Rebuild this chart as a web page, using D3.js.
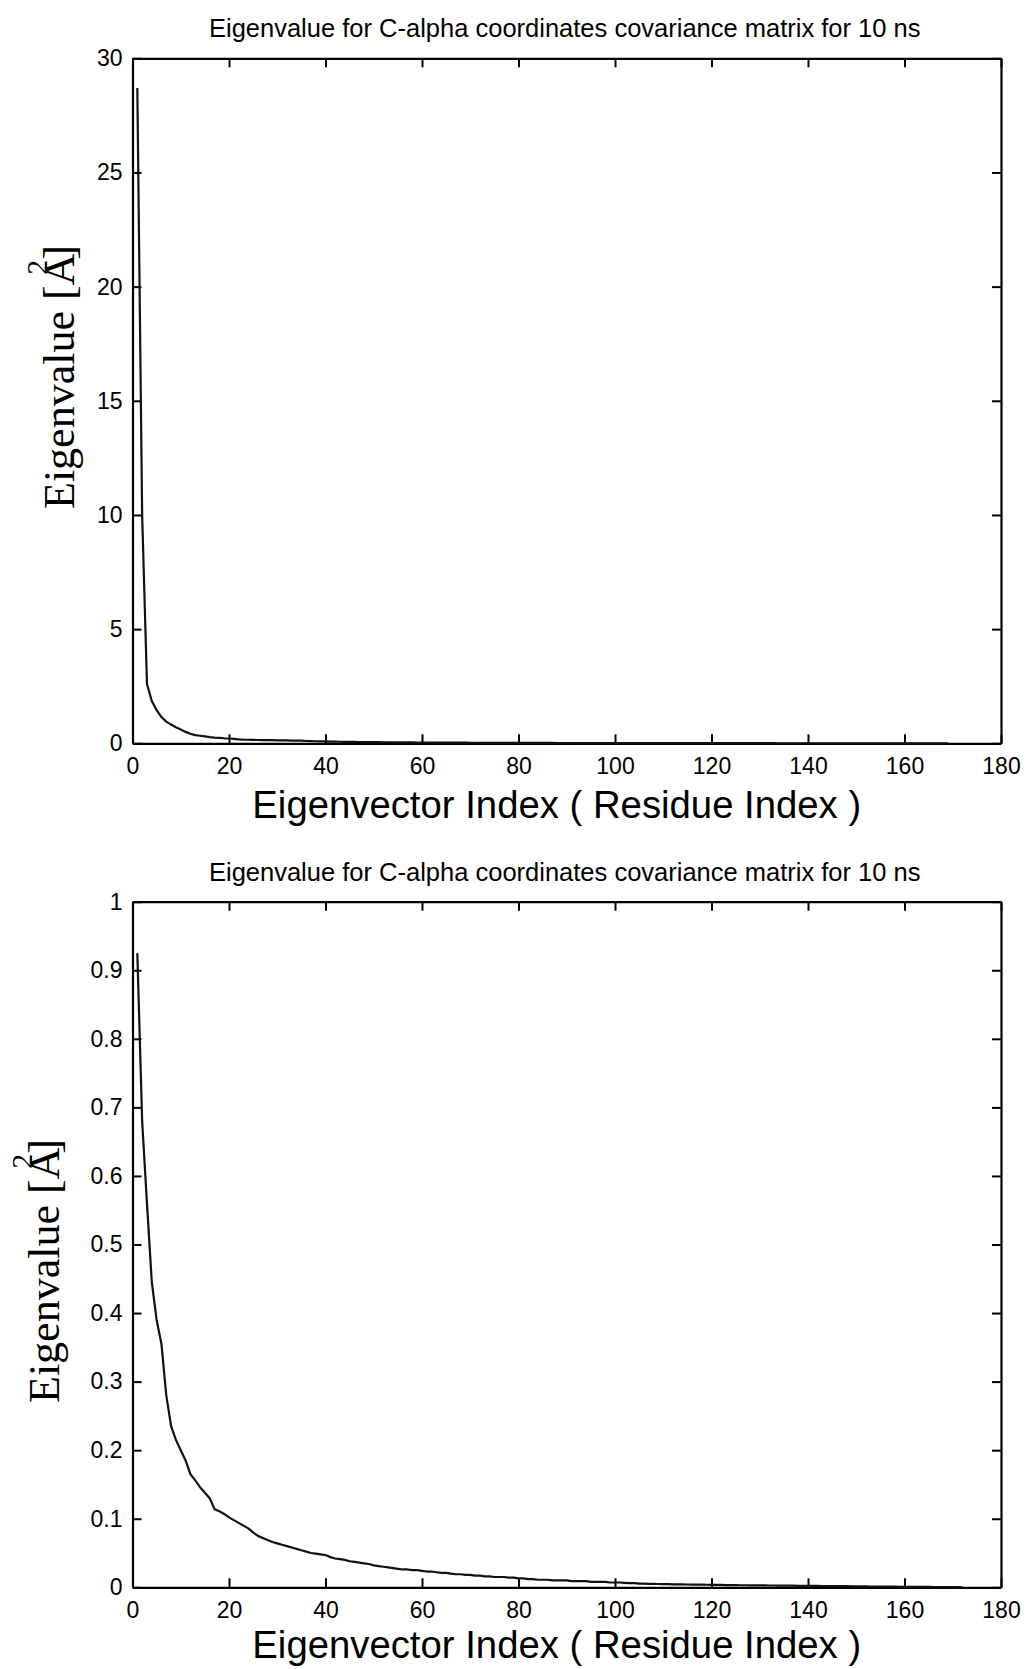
<!DOCTYPE html>
<html>
<head>
<meta charset="utf-8">
<script src="https://cdn.jsdelivr.net/npm/d3@7"></script>
<style>
  body { margin: 0; background: #ffffff; }
  text { fill: #000000; }
</style>
</head>
<body>
<script>
const width = 1026;
const height = 1669;

const titleText = "Eigenvalue for C-alpha coordinates covariance matrix for 10 ns";
const xLabelText = "Eigenvector Index ( Residue Index )";

const xTicks = [0, 20, 40, 60, 80, 100, 120, 140, 160, 180];
const yTicksTop = [0, 5, 10, 15, 20, 25, 30];
const yTicksBottom = [0, 0.1, 0.2, 0.3, 0.4, 0.5, 0.6, 0.7, 0.8, 0.9, 1];

// eigenvalues, index 1..169 (top panel)
const eigenTop = [
  28.7, 10.0, 2.6, 1.85, 1.45, 1.15, 0.95, 0.82, 0.70, 0.60,
  0.50, 0.42, 0.36, 0.33, 0.30, 0.27, 0.25, 0.24, 0.22, 0.21,
  0.19, 0.17, 0.16, 0.155, 0.15, 0.145, 0.14, 0.14, 0.135, 0.13,
  0.13, 0.125, 0.12, 0.12, 0.115, 0.10, 0.095, 0.09, 0.085, 0.08,
  0.076, 0.072, 0.069, 0.066, 0.063, 0.060, 0.058, 0.055, 0.053, 0.051,
  0.049, 0.047, 0.045, 0.043, 0.042, 0.040, 0.039, 0.037, 0.036, 0.035,
  0.034, 0.033, 0.032, 0.031, 0.030, 0.029, 0.028, 0.027, 0.026, 0.025,
  0.025, 0.024, 0.023, 0.022, 0.022, 0.021, 0.020, 0.020, 0.019, 0.018,
  0.018, 0.017, 0.017, 0.016, 0.016, 0.015, 0.015, 0.014, 0.014, 0.013,
  0.013, 0.012, 0.012, 0.012, 0.011, 0.011, 0.010, 0.010, 0.010, 0.009,
  0.009, 0.009, 0.008, 0.008, 0.008, 0.008, 0.007, 0.007, 0.007, 0.007,
  0.006, 0.006, 0.006, 0.006, 0.006, 0.005, 0.005, 0.005, 0.005, 0.005,
  0.0045, 0.0045, 0.0044, 0.0043, 0.0042, 0.0041, 0.004, 0.0039, 0.0038, 0.0037,
  0.0036, 0.0035, 0.0034, 0.0033, 0.0032, 0.0031, 0.003, 0.0029, 0.0028, 0.0027,
  0.0026, 0.0025, 0.0024, 0.0023, 0.0022, 0.0021, 0.002, 0.0019, 0.0018, 0.0017,
  0.0016, 0.0015, 0.0014, 0.0013, 0.0012, 0.0011, 0.001, 0.0009, 0.0008, 0.0007,
  0.0007, 0.0006, 0.0006, 0.0005, 0.0005, 0.0004, 0.0004, 0.0003, 0.0003
];

// eigenvalues, index 1..172 (bottom panel)
const eigenBottom = [
  0.925, 0.68, 0.56, 0.445, 0.39, 0.355, 0.28, 0.235, 0.215, 0.20,
  0.185, 0.165, 0.156, 0.146, 0.138, 0.13, 0.114, 0.111, 0.107, 0.102,
  0.098, 0.094, 0.090, 0.086, 0.080, 0.075, 0.072, 0.069, 0.066, 0.064,
  0.062, 0.060, 0.058, 0.056, 0.054, 0.052, 0.050, 0.049, 0.048, 0.047,
  0.044, 0.042, 0.041, 0.040, 0.038, 0.037, 0.036, 0.035, 0.034, 0.032,
  0.031, 0.030, 0.029, 0.028, 0.027, 0.026, 0.026, 0.025, 0.025, 0.024,
  0.023, 0.023, 0.022, 0.021, 0.021, 0.020, 0.019, 0.019, 0.018, 0.018,
  0.017, 0.017, 0.016, 0.016, 0.015, 0.015, 0.015, 0.014, 0.014, 0.013,
  0.013, 0.012, 0.012, 0.011, 0.011, 0.011, 0.010, 0.010, 0.010, 0.010,
  0.009, 0.009, 0.009, 0.009, 0.008, 0.008, 0.008, 0.008, 0.007, 0.007,
  0.007, 0.0065, 0.006, 0.006, 0.0055, 0.0055, 0.005, 0.005, 0.0048, 0.0046,
  0.0045, 0.0044, 0.0043, 0.0042, 0.0041, 0.004, 0.0039, 0.0038, 0.0037, 0.0036,
  0.0035, 0.0034, 0.0033, 0.0032, 0.0031, 0.003, 0.003, 0.0029, 0.0028, 0.0028,
  0.0027, 0.0026, 0.0026, 0.0025, 0.0024, 0.0024, 0.0023, 0.0022, 0.0022, 0.0021,
  0.002, 0.002, 0.0019, 0.0018, 0.0018, 0.0017, 0.0016, 0.0016, 0.0015, 0.0014,
  0.0014, 0.0013, 0.0012, 0.0012, 0.0011, 0.001, 0.001, 0.0009, 0.0008, 0.0008,
  0.0007, 0.0006, 0.0006, 0.0005, 0.0005, 0.0004, 0.0004, 0.0003, 0.0003, 0.0002,
  0.0002, 0.0001
];

const svg = d3.select("body")
  .append("svg")
  .attr("width", width)
  .attr("height", height)
  .style("display", "block")
  .style("background", "#ffffff");

const left = 132.5;
const right = 1001;
const sansFont = "'Liberation Sans', Arial, Helvetica, sans-serif";
const serifFont = "'Liberation Serif', 'Times New Roman', serif";

function drawPanel(opts) {
  const x = d3.scaleLinear().domain([0, 180]).range([left, right]);
  const y = d3.scaleLinear().domain([0, opts.yMax]).range([opts.bottom, opts.top]);

  const g = svg.append("g").attr("class", "panel");

  // four sided box with inward ticks
  const axes = [
    { axis: d3.axisBottom(x).tickValues(xTicks).tickFormat(d3.format("d")), pos: `translate(0,${opts.bottom})` },
    { axis: d3.axisTop(x).tickValues(xTicks).tickFormat(""), pos: `translate(0,${opts.top})` },
    { axis: d3.axisLeft(y).tickValues(opts.yTicks).tickFormat(opts.yFormat), pos: `translate(${left},0)` },
    { axis: d3.axisRight(y).tickValues(opts.yTicks).tickFormat(""), pos: `translate(${right},0)` }
  ];

  axes.forEach((a, i) => {
    const ag = g.append("g")
      .attr("transform", a.pos)
      .call(a.axis.tickSizeInner(-9).tickSizeOuter(0).tickPadding(i === 0 ? 14 : 10));
    ag.select(".domain").attr("stroke", "#000").attr("stroke-width", 2.2);
    ag.selectAll(".tick line").attr("stroke", "#000").attr("stroke-width", 2);
    ag.selectAll(".tick text")
      .attr("font-family", sansFont)
      .attr("font-size", 23)
      .attr("fill", "#000");
  });

  const line = d3.line()
    .x((d, i) => x(i + 1))
    .y(d => y(d));

  g.append("path")
    .datum(opts.data)
    .attr("fill", "none")
    .attr("stroke", "#111")
    .attr("stroke-width", 2.2)
    .attr("stroke-linejoin", "round")
    .attr("d", line);

  g.append("text")
    .attr("x", (left + right) / 2 - 2)
    .attr("y", opts.top - 21)
    .attr("text-anchor", "middle")
    .attr("font-family", sansFont)
    .attr("font-size", 25.5)
    .text(titleText);

  g.append("text")
    .attr("x", (left + right) / 2 - 10)
    .attr("y", opts.bottom + opts.xLabelGap)
    .attr("text-anchor", "middle")
    .attr("font-family", sansFont)
    .attr("font-size", 38.3)
    .text(xLabelText);

  const yl = g.append("text")
    .attr("transform", `translate(${opts.yLabelX},${opts.yLabelY}) rotate(-90)`)
    .attr("text-anchor", "middle")
    .attr("font-family", serifFont)
    .attr("font-size", 44);
  yl.append("tspan").text("Eigenvalue [A");
  yl.append("tspan").attr("dx", -21).attr("dy", -27).attr("font-size", 30).text("2");
  yl.append("tspan").attr("dy", 27).text("]");
}

drawPanel({
  top: 58.3, bottom: 743.3, yMax: 30,
  yTicks: yTicksTop, yFormat: d3.format("d"),
  data: eigenTop, xLabelGap: 75,
  yLabelX: 74, yLabelY: 377
});

drawPanel({
  top: 901.7, bottom: 1587.3, yMax: 1,
  yTicks: yTicksBottom, yFormat: d => d === 0 || d === 1 ? String(d) : d3.format(".1f")(d),
  data: eigenBottom, xLabelGap: 71,
  yLabelX: 59, yLabelY: 1271
});
</script>
</body>
</html>
